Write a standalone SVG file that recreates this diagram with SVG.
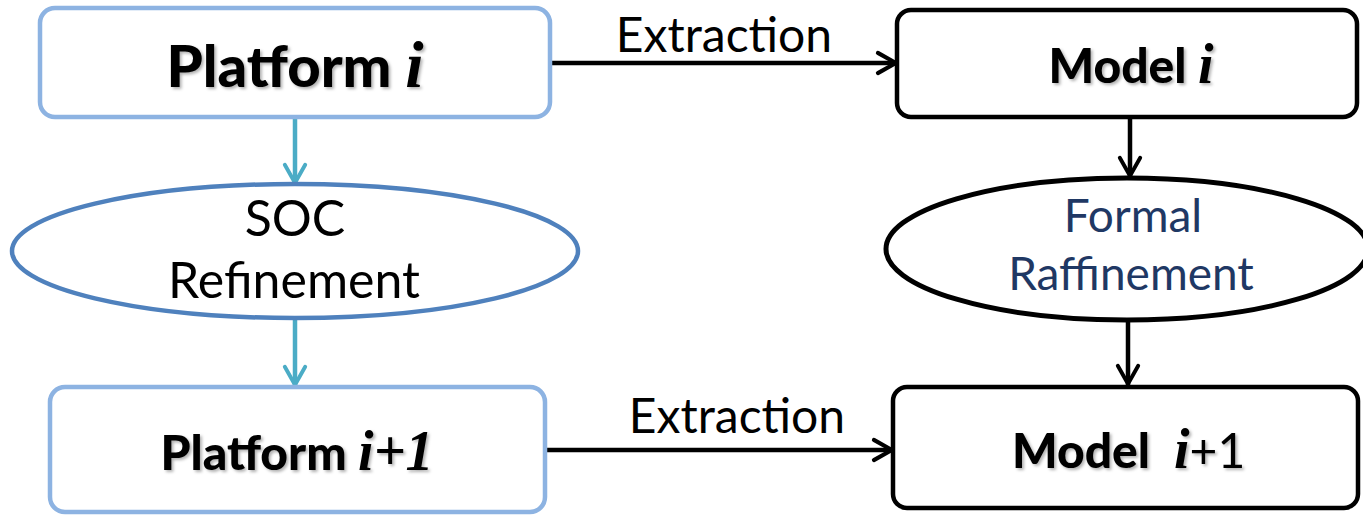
<svg xmlns="http://www.w3.org/2000/svg" width="1363" height="515" viewBox="0 0 1363 515">
  <style>
    .box-blue { fill: #ffffff; stroke: #8DB3E2; stroke-width: 4.5; }
    .box-black { fill: #ffffff; stroke: #000000; stroke-width: 4.5; }
    .ell-blue { fill: #ffffff; stroke: #4F81BD; stroke-width: 4.5; }
    .ell-black { fill: #ffffff; stroke: #000000; stroke-width: 5; }
    .lbl { font-family: Lato, "Open Sans", "Liberation Sans", sans-serif; }
    .bold { font-weight: 900; fill: #000000; }
    .var { font-family: "Liberation Serif", "DejaVu Serif", serif; font-style: italic; font-weight: bold; }
    .edge { font-family: Lato, "Open Sans", "Liberation Sans", sans-serif; font-size: 48px; fill: #000000; }
    .conn-black { stroke: #000000; stroke-width: 4.5; fill: none; }
    .conn-teal { stroke: #4BACC6; stroke-width: 4.5; fill: none; }
  </style>
  <defs>
    <marker id="arrow-black" viewBox="0 0 12 12" refX="11" refY="6" markerWidth="6" markerHeight="6" markerUnits="strokeWidth" orient="auto">
      <path d="M2.5,1.5 L10.5,6 L2.5,10.5" fill="none" stroke="#000000" stroke-width="1.8" stroke-linecap="round" stroke-linejoin="round"/>
    </marker>
    <marker id="arrow-teal" viewBox="0 0 12 12" refX="11" refY="6" markerWidth="6" markerHeight="6" markerUnits="strokeWidth" orient="auto">
      <path d="M2.5,1.5 L10.5,6 L2.5,10.5" fill="none" stroke="#4BACC6" stroke-width="1.8" stroke-linecap="round" stroke-linejoin="round"/>
    </marker>
    <filter id="shadow" x="-10%" y="-20%" width="130%" height="150%">
      <feDropShadow dx="2" dy="2" stdDeviation="1.5" flood-color="#000000" flood-opacity="0.3"/>
    </filter>
  </defs>

  <!-- connectors -->
  <g id="connectors">
    <line class="conn-black" x1="550" y1="63" x2="897" y2="63" marker-end="url(#arrow-black)"/>
    <line class="conn-black" x1="545" y1="450" x2="893" y2="450" marker-end="url(#arrow-black)"/>
    <line class="conn-teal" x1="295" y1="119" x2="295" y2="184" marker-end="url(#arrow-teal)"/>
    <line class="conn-teal" x1="295" y1="318" x2="295" y2="386" marker-end="url(#arrow-teal)"/>
    <line class="conn-black" x1="1130" y1="119" x2="1130" y2="177" marker-end="url(#arrow-black)"/>
    <line class="conn-black" x1="1128" y1="320" x2="1128" y2="385" marker-end="url(#arrow-black)"/>
    <text class="edge" x="724" y="52" text-anchor="middle">Extraction</text>
    <text class="edge" x="737" y="433" text-anchor="middle">Extraction</text>
  </g>

  <!-- Platform i -->
  <g id="platform-i">
    <rect class="box-blue" x="40" y="8" width="510" height="109" rx="15"/>
    <text class="lbl bold" x="295" y="87" font-size="58" text-anchor="middle" filter="url(#shadow)">Platform <tspan class="var" font-size="66">i</tspan></text>
  </g>

  <!-- Model i -->
  <g id="model-i">
    <rect class="box-black" x="897" y="10" width="460" height="107" rx="14"/>
    <text class="lbl bold" x="1131" y="83" font-size="48" text-anchor="middle" filter="url(#shadow)">Model <tspan class="var" font-size="56">i</tspan></text>
  </g>

  <!-- SOC Refinement -->
  <g id="soc-refinement">
    <ellipse class="ell-blue" cx="295" cy="251" rx="283" ry="67"/>
    <text class="lbl" x="295" y="236" font-size="50" text-anchor="middle" fill="#000000">SOC</text>
    <text class="lbl" x="294" y="298" font-size="50" text-anchor="middle" fill="#000000">Refinement</text>
  </g>

  <!-- Formal Raffinement -->
  <g id="formal-raffinement">
    <ellipse class="ell-black" cx="1127" cy="249" rx="241" ry="71"/>
    <text class="lbl" x="1133" y="232" font-size="46" text-anchor="middle" fill="#1F3864">Formal</text>
    <text class="lbl" x="1131" y="290" font-size="46" text-anchor="middle" fill="#1F3864">Raffinement</text>
  </g>

  <!-- Platform i+1 -->
  <g id="platform-i1">
    <rect class="box-blue" x="50" y="387" width="495" height="125" rx="15"/>
    <text class="lbl bold" x="297" y="470" font-size="48" text-anchor="middle" filter="url(#shadow)">Platform <tspan class="var" font-size="56">i+1</tspan></text>
  </g>

  <!-- Model i+1 -->
  <g id="model-i1">
    <rect class="box-black" x="893" y="387" width="465" height="121" rx="14"/>
    <text class="lbl bold" x="1012" y="468" font-size="48" filter="url(#shadow)">Model</text>
    <text x="1174" y="468" font-size="48" filter="url(#shadow)"><tspan class="var" font-size="56">i</tspan><tspan class="lbl" font-weight="normal">+1</tspan></text>
  </g>
</svg>
